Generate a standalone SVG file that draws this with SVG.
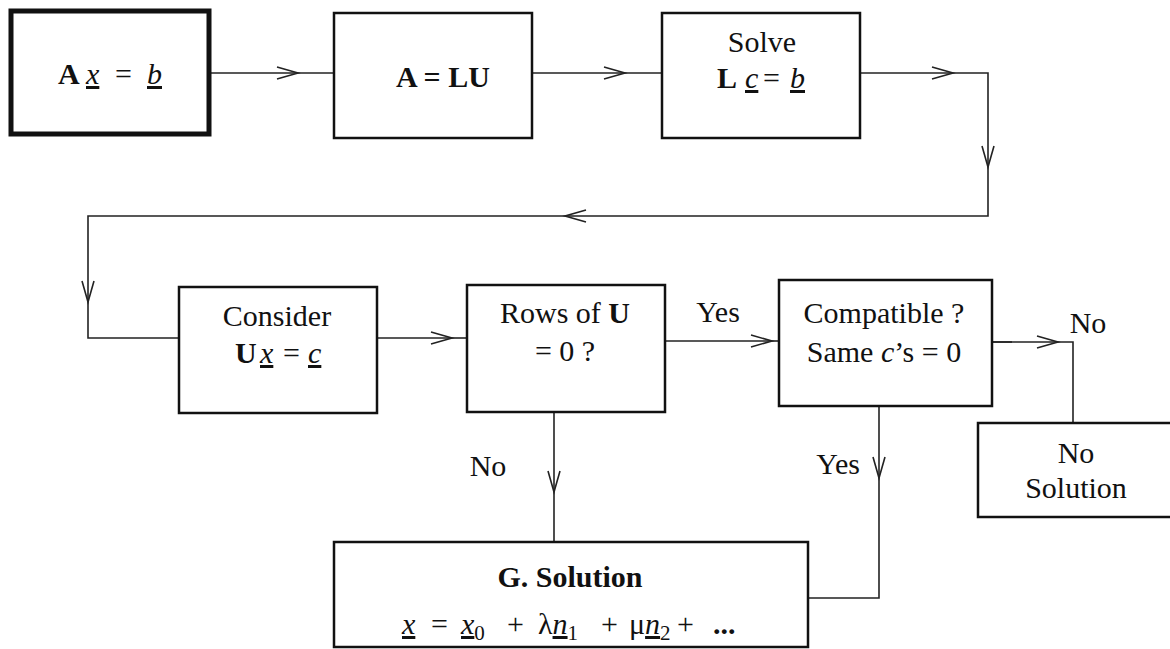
<svg xmlns="http://www.w3.org/2000/svg" width="1170" height="649" viewBox="0 0 1170 649">
<defs>
<style>
.box{fill:#fff;stroke:#111;stroke-width:2.5}
.thick{stroke-width:5}
.ln{fill:none;stroke:#222;stroke-width:1.6}
text{font-family:'Liberation Serif','Times New Roman',serif;font-size:30px;fill:#111}
.c{text-anchor:middle}
.b{font-weight:bold}
.i{font-style:italic}
.u{text-decoration:underline}
.s{font-size:21px}
</style>
<marker id="chev" markerUnits="userSpaceOnUse" markerWidth="30" markerHeight="20" refX="0" refY="0" orient="auto" overflow="visible">
<path d="M-21,-6 L0,0 L-21,6" fill="none" stroke="#222" stroke-width="1.6"/>
</marker>
</defs>
<rect width="1170" height="649" fill="#fff"/>

<g id="connectors">
<path class="ln" d="M210,73 H298" marker-end="url(#chev)"/>
<path class="ln" d="M298,73 H334"/>
<path class="ln" d="M532,73 H625" marker-end="url(#chev)"/>
<path class="ln" d="M625,73 H662"/>
<path class="ln" d="M860,73 H953" marker-end="url(#chev)"/>
<path class="ln" d="M953,73 H988 V167" marker-end="url(#chev)"/>
<path class="ln" d="M988,167 V216 H565" marker-end="url(#chev)"/>
<path class="ln" d="M565,216 H88 V302" marker-end="url(#chev)"/>
<path class="ln" d="M88,302 V338 H179"/>
<path class="ln" d="M377,338 H452" marker-end="url(#chev)"/>
<path class="ln" d="M452,338 H468"/>
<path class="ln" d="M665,341 H772" marker-end="url(#chev)"/>
<path class="ln" d="M772,341 H779"/>
<path class="ln" d="M992,342 H1058" marker-end="url(#chev)"/>
<path class="ln" d="M992,342 H1012" stroke="#222" stroke-width="2.6"/>
<path class="ln" d="M1058,342 H1073 V423"/>
<path class="ln" d="M554,413 V492" marker-end="url(#chev)"/>
<path class="ln" d="M554,492 V542"/>
<path class="ln" d="M879,406 V478" marker-end="url(#chev)"/>
<path class="ln" d="M879,478 V598 H808"/>
<text class="c" x="718" y="322">Yes</text>
<text class="c" x="1088" y="333">No</text>
<text class="c" x="488" y="476">No</text>
<text x="860" y="474" text-anchor="end">Yes</text>
</g>

<g id="n1">
<rect class="box thick" x="11" y="11" width="198" height="123"/>
<text y="84"><tspan class="b" x="58">A</tspan><tspan class="i u" x="86">x</tspan><tspan x="115">=</tspan><tspan class="i u" x="147">b</tspan></text>
</g>

<g id="n2">
<rect class="box" x="334" y="13" width="198" height="125"/>
<text class="c b" x="443" y="87">A = LU</text>
</g>

<g id="n3">
<rect class="box" x="662" y="13" width="198" height="125"/>
<text class="c" x="762" y="52">Solve</text>
<text y="88"><tspan class="b" x="717">L</tspan><tspan class="i u" x="745">c</tspan><tspan x="763">=</tspan><tspan class="i u" x="790">b</tspan></text>
</g>

<g id="n4">
<rect class="box" x="179" y="287" width="198" height="126"/>
<text class="c" x="277" y="326">Consider</text>
<text y="363"><tspan class="b" x="235">U</tspan><tspan class="i u" x="260">x</tspan><tspan x="283">=</tspan><tspan class="i u" x="308">c</tspan></text>
</g>

<g id="n5">
<rect class="box" x="467" y="285" width="198" height="127"/>
<text class="c" x="565" y="323">Rows of <tspan class="b">U</tspan></text>
<text class="c" x="565" y="361">= 0 ?</text>
</g>

<g id="n6">
<rect class="box" x="779" y="280" width="213" height="126"/>
<text class="c" x="884" y="323">Compatible ?</text>
<text class="c" x="884" y="362">Same <tspan class="i">c</tspan>’s = 0</text>
</g>

<g id="n7">
<rect class="box" x="978" y="423" width="210" height="94"/>
<text class="c" x="1076" y="463">No</text>
<text class="c" x="1076" y="498">Solution</text>
</g>

<g id="n8">
<rect class="box" x="334" y="542" width="474" height="105"/>
<text class="c b" x="570" y="587">G. Solution</text>
<text y="634"><tspan class="i u" x="402">x</tspan><tspan x="431">=</tspan><tspan class="i u" x="461">x</tspan><tspan class="s" dy="6">0</tspan><tspan x="507" dy="-6">+</tspan><tspan x="538">λ</tspan><tspan class="i u">n</tspan><tspan class="s" dy="6">1</tspan><tspan x="601" dy="-6">+</tspan><tspan x="629">μ</tspan><tspan class="i u">n</tspan><tspan class="s" dy="6">2</tspan><tspan x="677" dy="-6">+</tspan><tspan class="b" x="713">...</tspan></text>
</g>
</svg>
